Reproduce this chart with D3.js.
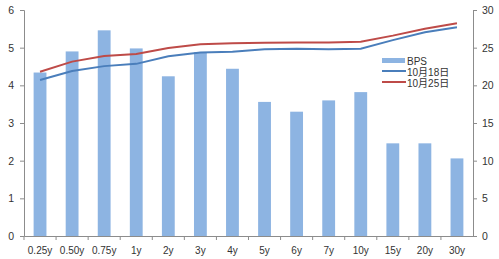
<!DOCTYPE html>
<html>
<head>
<meta charset="utf-8">
<style>
  body { margin: 0; background: #fff; }
  text { font-family: "Liberation Sans", "Noto Sans CJK SC", sans-serif; fill: #333; }
</style>
</head>
<body>
<script src="https://cdn.jsdelivr.net/npm/d3@7/dist/d3.min.js"></script>
<script>
// categories and series
var tenors = ["0.25y", "0.50y", "0.75y", "1y", "2y", "3y", "4y", "5y", "6y", "7y", "10y", "15y", "20y", "30y"];
var bps = [21.7, 24.5, 27.3, 24.9, 21.2, 24.4, 22.2, 17.8, 16.5, 18.0, 19.1, 12.3, 12.3, 10.3];
var oct18 = [4.14, 4.38, 4.51, 4.57, 4.77, 4.87, 4.89, 4.96, 4.97, 4.96, 4.97, 5.20, 5.41, 5.54];
var oct25 = [4.36, 4.63, 4.78, 4.83, 4.99, 5.09, 5.12, 5.13, 5.14, 5.14, 5.16, 5.32, 5.50, 5.65];
var leftTicks = [0, 1, 2, 3, 4, 5, 6];
var rightTicks = [0, 5, 10, 15, 20, 25, 30];
var legendNames = ["BPS", "10月18日", "10月25日"];

var W = 499, H = 259;
var margin = {top: 10, right: 26, bottom: 23, left: 24};
var width = W - margin.left - margin.right;
var height = H - margin.top - margin.bottom;

var svg = d3.select("body").append("svg")
    .attr("width", W)
    .attr("height", H)
    .append("g")
    .attr("transform", "translate(" + margin.left + "," + margin.top + ")");

var x = d3.scaleBand().domain(tenors).range([0, width]);
var yL = d3.scaleLinear().domain([0, 6]).range([height, 0]);
var yR = d3.scaleLinear().domain([0, 30]).range([height, 0]);

var axisColor = "#8c8c8c";
var barColor = "#8db4e2";
var blue = "#4a7ebb";
var red = "#be4b48";

// bars (right axis)
var bw = x.bandwidth() * 0.4;
svg.append("g").selectAll("rect")
    .data(bps)
    .enter().append("rect")
    .attr("x", function(d, i) { return x(tenors[i]) + (x.bandwidth() - bw) / 2; })
    .attr("y", function(d) { return yR(d); })
    .attr("width", bw)
    .attr("height", function(d) { return height - yR(d); })
    .attr("fill", barColor);

// lines (left axis)
var line = d3.line()
    .x(function(d, i) { return x(tenors[i]) + x.bandwidth() / 2; })
    .y(function(d) { return yL(d); });

svg.append("path").datum(oct18)
    .attr("d", line).attr("fill", "none")
    .attr("stroke", blue).attr("stroke-width", 2);
svg.append("path").datum(oct25)
    .attr("d", line).attr("fill", "none")
    .attr("stroke", red).attr("stroke-width", 2);

// left axis
var gl = svg.append("g")
    .call(d3.axisLeft(yL).tickValues(leftTicks).tickFormat(d3.format("d")).tickSize(4).tickPadding(6));
// right axis
var gr = svg.append("g")
    .attr("transform", "translate(" + width + ",0)")
    .call(d3.axisRight(yR).tickValues(rightTicks).tickSize(4).tickPadding(5));
// bottom axis
var gb = svg.append("g")
    .attr("transform", "translate(0," + height + ")")
    .call(d3.axisBottom(x).tickSize(0).tickPadding(11));
gb.selectAll(".tick").append("line")
    .attr("x1", -x.bandwidth() / 2).attr("x2", -x.bandwidth() / 2)
    .attr("y1", 0).attr("y2", 4);

[gl, gr, gb].forEach(function(g) {
  g.select(".domain").attr("stroke", axisColor);
  g.selectAll(".tick line").attr("stroke", axisColor);
  g.selectAll(".tick text")
    .style("font-family", "'Liberation Sans', sans-serif")
    .style("font-size", "10.5px")
    .attr("fill", "#333");
});
gb.selectAll(".tick text").style("font-size", "10px");

// legend
var lg = svg.append("g").attr("transform", "translate(358,48)");
lg.append("rect").attr("x", 0).attr("y", 0).attr("width", 23).attr("height", 5).attr("fill", barColor);
lg.append("line").attr("x1", 0).attr("x2", 24).attr("y1", 13).attr("y2", 13)
    .attr("stroke", blue).attr("stroke-width", 2);
lg.append("line").attr("x1", 0).attr("x2", 24).attr("y1", 24).attr("y2", 24)
    .attr("stroke", red).attr("stroke-width", 2);
lg.selectAll("text")
    .data(legendNames)
    .enter().append("text")
    .attr("x", 25)
    .attr("y", function(d, i) { return 3 + i * 11; })
    .attr("dy", "0.35em")
    .style("font-size", "10px")
    .style("font-family", "'Liberation Sans', 'Noto Sans CJK SC', sans-serif")
    .text(function(d) { return d; });
</script>
</body>
</html>
